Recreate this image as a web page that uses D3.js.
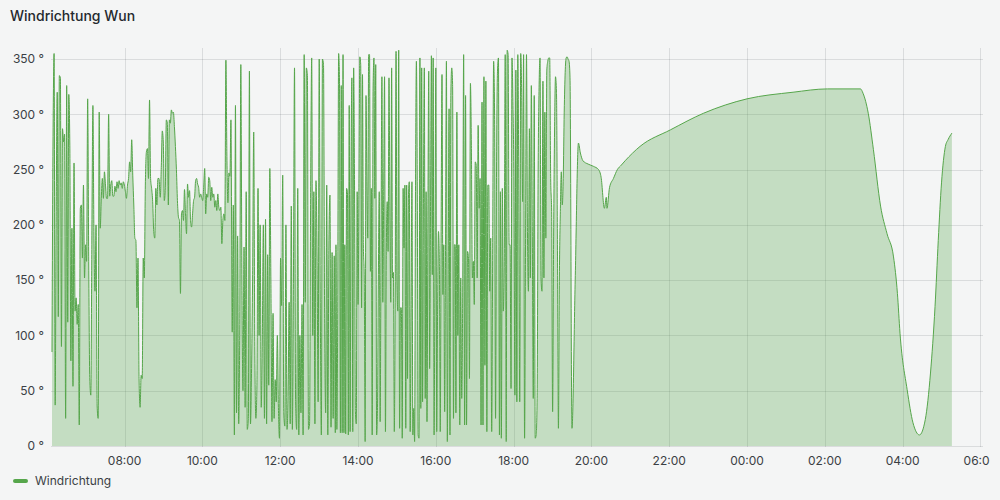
<!DOCTYPE html>
<html>
<head>
<meta charset="utf-8">
<script src="https://cdn.jsdelivr.net/npm/d3@7"></script>
<style>
  body { margin: 0; background: #f4f5f5; font-family: Inter, "Noto Sans", sans-serif; }
</style>
</head>
<body>
<svg id="chart" width="1000" height="500"></svg>
<script>
// wind direction readings, evenly spaced inside each segment
var seg1Values = [85, 280, 355, 37, 212, 320, 117, 335, 333, 90, 287, 275, 282, 25, 326, 112, 318, 272, 77, 197, 54, 256, 122, 134, 110, 128, 19, 215, 218, 170, 236, 152, 182, 167, 314, 167, 62, 46, 182, 308, 188, 140, 200, 37, 25, 302, 197, 224, 242, 224, 248, 236, 224, 224, 300, 226, 236, 240, 226, 226, 235, 230, 239, 233, 240, 236, 238, 233, 239, 236, 230, 224, 236, 242, 257, 248, 277, 245, 218, 188, 186, 125, 170, 61, 35, 64, 61, 170, 152, 236, 266, 269, 242, 313, 242, 233, 221, 194, 188, 233, 218, 242, 242];
var seg2Values = [225, 252, 285, 275, 222, 234, 295, 292, 218, 295, 292, 304, 301, 302, 289, 271, 250, 222, 207, 204, 138, 210, 213, 204, 232, 210, 192, 237, 225, 231, 204, 198, 210, 222, 225, 240, 242, 237, 234, 225, 228, 225, 222, 234, 251, 210, 228, 225, 243, 240, 222, 234, 225, 228, 216, 222, 213, 228, 216, 213, 216, 183, 204, 210, 204, 349, 262, 220, 247, 244, 295];
var seg3Values = [103, 218, 10, 308, 30, 190, 20, 110, 345, 150, 50, 180, 35, 230, 15, 25, 339, 20, 70, 155, 284, 90, 25, 55, 233, 100, 200, 35, 95, 200, 25, 205, 20, 173, 55, 251, 150, 22, 120, 25, 60, 40, 100, 35, 7, 170, 127, 245, 30, 18, 200, 15, 45, 130, 20, 217, 15, 152, 342, 40, 15, 233, 10, 100, 30, 128, 10, 354, 130, 342, 335, 15, 20, 224, 351, 100, 230, 20, 240, 170, 40, 350, 130, 10, 350, 345, 125, 30, 236, 10, 180, 227, 17, 175, 25, 172, 12];
var seg4Values = [182, 15, 125, 355, 330, 12, 326, 12, 354, 12, 182, 11, 233, 230, 10, 308, 13, 233, 333, 13, 342, 236, 31, 20, 230, 128, 230, 352, 345, 125, 336, 182, 152, 4, 317, 239, 188, 354, 354, 158, 233, 10, 323, 351, 224, 345, 10, 35, 155, 230, 22, 182, 334, 130, 230, 334, 13, 179, 221, 176, 333, 221, 130, 342, 152, 157, 13, 130, 357, 152, 122, 358, 16, 125, 125, 7, 233, 179, 236, 16, 236, 61, 224, 239, 13, 128, 239, 10, 34, 4, 230, 348, 239, 10, 7, 351, 34, 342, 40, 224, 342, 43, 230, 22, 197, 339, 70, 212, 353, 155, 351, 10, 152, 342, 13, 122, 194, 167, 13, 194, 336, 137, 182, 31, 182, 348, 4, 155, 305, 10, 317, 342, 327, 25, 182, 182];
var seg5Values = [30, 302, 100, 182, 19, 152, 43, 134, 354, 19, 317, 19, 176, 170, 61, 328, 272, 152, 167, 128, 257, 254, 152, 290, 215, 242, 19, 311, 19, 334, 73, 330, 13, 236, 236, 140, 188, 13, 173, 348, 299, 25, 248, 339, 351, 10, 230, 7, 233, 122, 167, 354, 4, 358, 354, 182, 182, 52, 351, 308, 236, 46, 340, 40, 354, 242, 40, 355, 320, 221, 354, 7, 182, 354, 194, 140, 287, 152, 326, 194, 43, 317, 7, 10, 43, 242, 324, 351, 152, 140, 330, 152, 302, 188, 340, 348, 351, 351, 242, 212, 31, 182, 284, 334, 320, 182, 16, 152, 212, 248, 218, 242, 302, 338, 351, 352, 350, 348, 333];
var segStarts = ["06:08", "08:55", "10:46", "13:26", "16:31"];
var segEnds = ["08:53", "10:44", "13:25", "16:30", "19:27"];

// calmer evening / night part
var tailTimes = ["19:30", "19:35", "19:40", "19:43", "19:47", "19:55", "20:03", "20:11", "20:15", "20:20", "20:23", "20:24", "20:28", "20:34", "20:40", "20:46", "20:52", "21:15", "22:02", "22:53", "00:00", "01:11", "02:04", "02:55", "02:59", "03:07", "03:15", "03:26", "03:36", "03:46", "03:52", "03:56", "04:07", "04:16", "04:26", "04:35", "04:43", "04:50", "04:55", "05:00", "05:06", "05:10", "05:16"];
var tailValues = [16, 150, 274, 265, 258, 255, 253, 250, 243, 215, 225, 215, 234, 242, 250, 254, 258, 271, 286, 301, 314, 320, 323, 323, 319, 301, 268, 217, 192, 171, 138, 102, 51, 21, 10, 24, 66, 126, 186, 238, 271, 277, 283];

var yTicks = [0, 50, 100, 150, 200, 250, 300, 350];
var domainStart = "06:08", domainEnd = "06:04"; // end is on the next day

var seriesColor = "#56a64b";
var textColor = "#3b3f44";

// times before 06:00 belong to the next day
function parseTime(s) {
    var p = s.split(":");
    var m = +p[0] * 60 + +p[1];
    if (m < 360) m += 1440;
    return new Date(2024, 0, 1, 0, m);
}

var points = [];
var segs = [seg1Values, seg2Values, seg3Values, seg4Values, seg5Values];
segs.forEach(function(vals, i) {
    var t0 = parseTime(segStarts[i]).getTime(), t1 = parseTime(segEnds[i]).getTime();
    vals.forEach(function(v, j) {
        points.push({ t: new Date(t0 + (t1 - t0) * j / (vals.length - 1)), v: v });
    });
});
tailTimes.forEach(function(s, i) {
    points.push({ t: parseTime(s), v: tailValues[i] });
});

var dims = { left: 52, right: 983, top: 48, bottom: 446 };

var svg = d3.select("#chart");

// panel clips its content a bit right of the plot
svg.append("clipPath").attr("id", "panel")
    .append("rect").attr("x", 0).attr("y", 0).attr("width", 990).attr("height", 500);

var x = d3.scaleTime()
    .domain([parseTime(domainStart), d3.timeDay.offset(parseTime(domainEnd), 1)])
    .range([dims.left, dims.right]);
var y = d3.scaleLinear()
    .domain([0, 360])
    .range([dims.bottom, dims.top]);

// title
svg.append("text")
    .attr("x", 10).attr("y", 21)
    .style("font-size", "14px").style("font-weight", 500)
    .attr("fill", "#24292e")
    .text("Windrichtung Wun");

// grid
var grid = svg.append("g").attr("stroke", "rgba(36,41,46,0.12)").attr("stroke-width", 1);
grid.selectAll(".hgrid").data(yTicks).enter().append("line")
    .attr("x1", dims.left - 1).attr("x2", dims.right)
    .attr("y1", d => Math.round(y(d)) + 0.5).attr("y2", d => Math.round(y(d)) + 0.5);
var xTicks = x.ticks(d3.timeHour.every(2));
grid.selectAll(".vgrid").data(xTicks).enter().append("line")
    .attr("x1", d => Math.round(x(d)) + 0.5).attr("x2", d => Math.round(x(d)) + 0.5)
    .attr("y1", dims.top).attr("y2", dims.bottom + 1);

// series
var area = d3.area()
    .x(d => x(d.t)).y0(y(0)).y1(d => y(d.v))
    .curve(d3.curveMonotoneX);
var line = d3.line()
    .x(d => x(d.t)).y(d => y(d.v))
    .curve(d3.curveMonotoneX);

svg.append("path").datum(points)
    .attr("d", area)
    .attr("fill", seriesColor).attr("fill-opacity", 0.3);
svg.append("path").datum(points)
    .attr("d", line)
    .attr("fill", "none").attr("stroke", seriesColor).attr("stroke-width", 1);

// axis labels
svg.selectAll(".ylab").data(yTicks).enter().append("text")
    .attr("x", 44).attr("y", d => y(d)).attr("dy", "0.35em")
    .attr("text-anchor", "end")
    .style("font-size", "12px").attr("fill", textColor)
    .text(d => d + " °");

var fmt = d3.timeFormat("%H:%M");
svg.append("g").attr("clip-path", "url(#panel)")
    .selectAll(".xlab").data(xTicks).enter().append("text")
    .attr("x", d => x(d)).attr("y", 465)
    .attr("text-anchor", "middle")
    .style("font-size", "12px").attr("fill", textColor)
    .text(d => fmt(d));

// legend
svg.append("line")
    .attr("x1", 15).attr("x2", 26).attr("y1", 481).attr("y2", 481)
    .attr("stroke", seriesColor).attr("stroke-width", 4).attr("stroke-linecap", "round");
svg.append("text")
    .attr("x", 35).attr("y", 485)
    .style("font-size", "12px").attr("fill", textColor)
    .text("Windrichtung");
</script>
</body>
</html>
